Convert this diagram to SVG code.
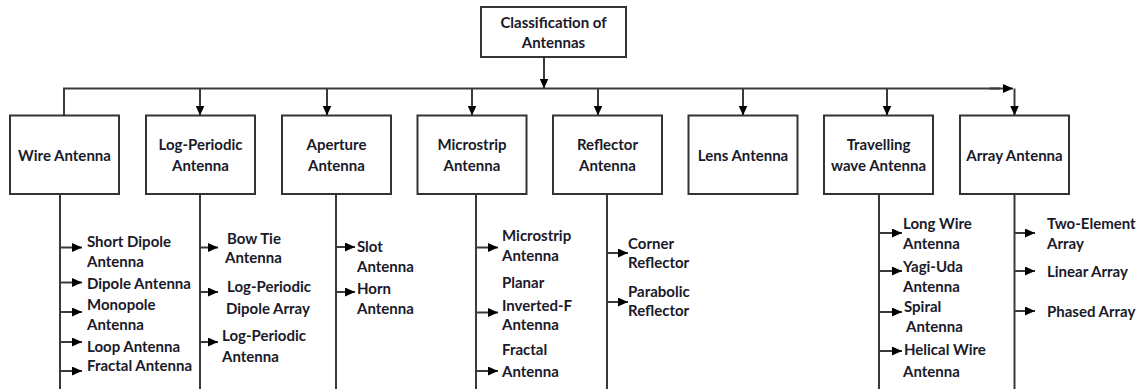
<svg xmlns="http://www.w3.org/2000/svg" width="1141" height="389" viewBox="0 0 1141 389">
<style>
.box{fill:#fff;stroke:#333;stroke-width:2}
.ln{fill:none;stroke:#3a3a3a;stroke-width:2}
.arr{fill:none;stroke:#3a3a3a;stroke-width:2;marker-end:url(#ah)}
text{font-family:Lato,"Liberation Sans",sans-serif;font-weight:bold;font-size:15px;fill:#1a1a2a;dominant-baseline:central}
.c{text-anchor:middle}
</style>
<defs>
<marker id="ah" markerUnits="userSpaceOnUse" markerWidth="11" markerHeight="9" refX="10" refY="4.5" orient="auto">
<path d="M0,0 L10,4.5 L0,9 z" fill="#000"/>
</marker>
</defs>
<rect width="1141" height="389" fill="#fff"/>
<g id="connectors">
<path class="arr" d="M544,57 V88.5"/>
<path class="ln" d="M64,115.5 V88.5 H1000"/>
<path class="arr" d="M990,88.5 H1013"/>
<path class="arr" d="M1014.5,88.5 V115.5"/>
<path class="arr" d="M200,88.5 V115.5"/>
<path class="arr" d="M327,88.5 V115.5"/>
<path class="arr" d="M472,88.5 V115.5"/>
<path class="arr" d="M598,88.5 V115.5"/>
<path class="arr" d="M743,88.5 V115.5"/>
<path class="arr" d="M887,88.5 V115.5"/>
<path class="ln" d="M60,194 V389 M200,194 V389 M336,194 V389 M476,194 V389 M607,194 V389 M879,194 V389 M1014.5,194 V389"/>
<path class="arr" d="M60,247.5 H82"/>
<path class="arr" d="M60,282.5 H82"/>
<path class="arr" d="M60,312 H82"/>
<path class="arr" d="M60,342 H82"/>
<path class="arr" d="M60,371 H82"/>
<path class="arr" d="M200,247.5 H218"/>
<path class="arr" d="M200,292 H218"/>
<path class="arr" d="M200,342 H218"/>
<path class="arr" d="M336,247 H355"/>
<path class="arr" d="M336,292 H355"/>
<path class="arr" d="M476,247.5 H498"/>
<path class="arr" d="M476,312.5 H498"/>
<path class="arr" d="M476,371 H498"/>
<path class="arr" d="M607,253 H628"/>
<path class="arr" d="M607,302 H628"/>
<path class="arr" d="M879,233 H902"/>
<path class="arr" d="M879,271 H902"/>
<path class="arr" d="M879,312 H902"/>
<path class="arr" d="M879,351 H902"/>
<path class="arr" d="M1014.5,233 H1035"/>
<path class="arr" d="M1014.5,271 H1035"/>
<path class="arr" d="M1014.5,311 H1035"/>
</g>
<g id="root"><rect class="box" x="481" y="7" width="145" height="50"/><text class="c" x="553.5" y="22">Classification of</text><text class="c" x="553.5" y="42">Antennas</text></g>
<g id="wire"><rect class="box" x="10" y="115.5" width="109" height="78.5"/><text class="c" x="64.5" y="154.5">Wire Antenna</text></g>
<g id="logperiodic"><rect class="box" x="146" y="115.5" width="109" height="78.5"/><text class="c" x="200.5" y="143.5">Log-Periodic</text><text class="c" x="200.5" y="165">Antenna</text></g>
<g id="aperture"><rect class="box" x="282" y="115.5" width="109" height="78.5"/><text class="c" x="336.5" y="143.5">Aperture</text><text class="c" x="336.5" y="165">Antenna</text></g>
<g id="microstrip"><rect class="box" x="417.5" y="115.5" width="109" height="78.5"/><text class="c" x="472" y="143.5">Microstrip</text><text class="c" x="472" y="165">Antenna</text></g>
<g id="reflector"><rect class="box" x="553" y="115.5" width="109" height="78.5"/><text class="c" x="607.5" y="143.5">Reflector</text><text class="c" x="607.5" y="165">Antenna</text></g>
<g id="lens"><rect class="box" x="688.5" y="115.5" width="109" height="78.5"/><text class="c" x="743" y="154.5">Lens Antenna</text></g>
<g id="travelling"><rect class="box" x="824" y="115.5" width="109" height="78.5"/><text class="c" x="878.5" y="143.5">Travelling</text><text class="c" x="878.5" y="165">wave Antenna</text></g>
<g id="array"><rect class="box" x="960" y="115.5" width="109" height="78.5"/><text class="c" x="1014.5" y="154.5">Array Antenna</text></g>
<g id="wire-types">
<text x="87" y="241">Short Dipole</text><text x="87" y="261">Antenna</text>
<text x="87" y="282.5">Dipole Antenna</text>
<text x="87" y="304">Monopole</text><text x="87" y="324">Antenna</text>
<text x="87" y="345.5">Loop Antenna</text>
<text x="87" y="365">Fractal Antenna</text>
</g>
<g id="logperiodic-types">
<text x="227" y="237.5">Bow Tie</text><text x="225" y="257">Antenna</text>
<text x="227" y="286">Log-Periodic</text><text x="226" y="307.5">Dipole Array</text>
<text x="222" y="335">Log-Periodic</text><text x="222" y="356">Antenna</text>
</g>
<g id="aperture-types">
<text x="357" y="246">Slot</text><text x="357" y="266">Antenna</text>
<text x="357" y="288">Horn</text><text x="357" y="307.5">Antenna</text>
</g>
<g id="microstrip-types">
<text x="502" y="235">Microstrip</text><text x="502" y="255">Antenna</text>
<text x="502" y="282">Planar</text><text x="502" y="304.5">Inverted-F</text><text x="502" y="324">Antenna</text>
<text x="502" y="349">Fractal</text><text x="502" y="371">Antenna</text>
</g>
<g id="reflector-types">
<text x="628" y="242.5">Corner</text><text x="628" y="262">Reflector</text>
<text x="628" y="291">Parabolic</text><text x="628" y="310">Reflector</text>
</g>
<g id="travelling-types">
<text x="903" y="222.5">Long Wire</text><text x="903" y="242.5">Antenna</text>
<text x="903" y="266">Yagi-Uda</text><text x="903" y="286">Antenna</text>
<text x="904" y="306">Spiral</text><text x="906" y="326">Antenna</text>
<text x="904" y="349">Helical Wire</text><text x="903" y="371">Antenna</text>
</g>
<g id="array-types">
<text x="1047" y="222.5">Two-Element</text><text x="1047" y="242.5">Array</text>
<text x="1047" y="271">Linear Array</text>
<text x="1047" y="311">Phased Array</text>
</g>
</svg>
